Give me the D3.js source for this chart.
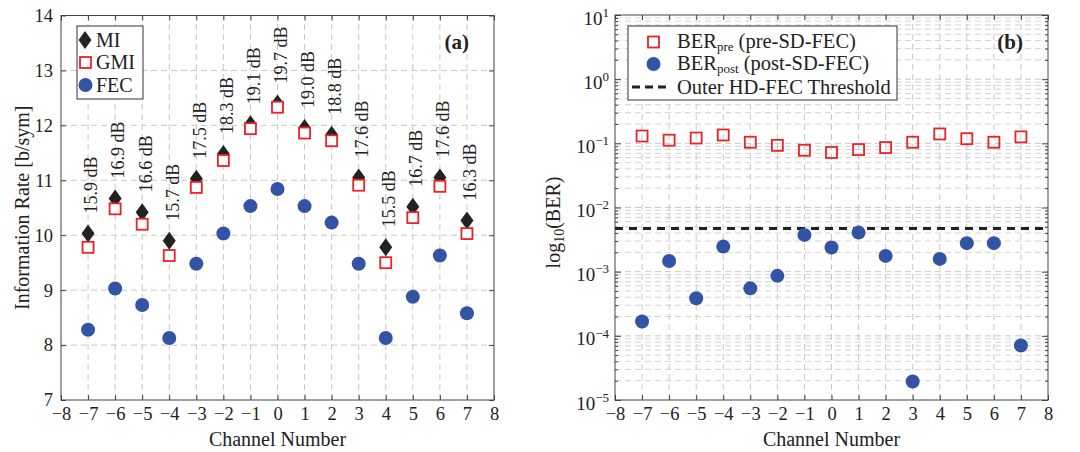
<!DOCTYPE html>
<html><head><meta charset="utf-8">
<script src="https://cdn.jsdelivr.net/npm/d3@7"></script>
<style>
body{margin:0;background:#fff;}
text{font-family:"Liberation Serif","Times New Roman",serif;fill:#222;}
</style></head>
<body><svg id="c" width="1080" height="452"></svg>
<script>
const channels = [-7,-6,-5,-4,-3,-2,-1,0,1,2,3,4,5,6,7];
const miValues  = [10.03,10.67,10.42,9.90,11.03,11.48,12.02,12.40,11.95,11.83,11.05,9.78,10.52,11.05,10.27];
const gmiValues = [9.78,10.48,10.20,9.63,10.87,11.36,11.94,12.33,11.86,11.72,10.91,9.50,10.32,10.89,10.03];
const fecValues = [8.28,9.03,8.73,8.13,9.48,10.03,10.53,10.84,10.53,10.23,9.48,8.13,8.88,9.63,8.58];
const snrLabels = ["15.9 dB","16.9 dB","16.6 dB","15.7 dB","17.5 dB","18.3 dB","19.1 dB","19.7 dB","19.0 dB","18.8 dB","17.6 dB","15.5 dB","16.7 dB","17.6 dB","16.3 dB"];
const berPre  = [0.130,0.112,0.121,0.135,0.104,0.093,0.078,0.072,0.080,0.086,0.104,0.140,0.118,0.104,0.126];
const berPost = [1.67e-4,1.47e-3,3.86e-4,2.46e-3,5.5e-4,8.6e-4,3.74e-3,2.38e-3,4.06e-3,1.76e-3,1.94e-5,1.58e-3,2.78e-3,2.78e-3,7.06e-5];
const hdFecThreshold = 4.7e-3;
const xTicks = [-8,-7,-6,-5,-4,-3,-2,-1,0,1,2,3,4,5,6,7,8];
const yTicksA = [7,8,9,10,11,12,13,14];
const yTicksBExp = [-5,-4,-3,-2,-1,0,1];

const RED = "#ec2227", BLUE = "#3353a4", BLACK = "#222";
const svg = d3.select("#c");
const fmtMinus = n => (n < 0 ? "\u2212" + Math.abs(n) : "" + n);
const DIAMOND = "M0,-9L6.5,0L0,9L-6.5,0Z";

function styleAxis(a, size){
  a.select(".domain").remove();
  a.selectAll(".tick line").attr("stroke","#444");
  a.selectAll(".tick text").style("font-size",size+"px").style("font-family","'Liberation Serif',serif").attr("fill","#222");
}
function frame(g, x0, x1, y0, y1){
  g.append("rect").attr("x",x0).attr("y",y1).attr("width",x1-x0).attr("height",y0-y1)
   .attr("fill","none").attr("stroke","#444").attr("stroke-width",1);
}

// ---------- Panel (a) ----------
const xA = d3.scaleLinear().domain([-8,8]).range([61,494]);
const yA = d3.scaleLinear().domain([7,14]).range([400,15.5]);
const gA = svg.append("g");

gA.append("g").selectAll("line").data(xTicks.slice(1,-1)).join("line")
  .attr("x1",d=>xA(d)).attr("x2",d=>xA(d)).attr("y1",yA(7)).attr("y2",yA(14))
  .attr("stroke","#c8c8c8").attr("stroke-width",1).attr("stroke-dasharray","6,4");
gA.append("g").selectAll("line").data(yTicksA.slice(1,-1)).join("line")
  .attr("y1",d=>yA(d)).attr("y2",d=>yA(d)).attr("x1",xA(-8)).attr("x2",xA(8))
  .attr("stroke","#c8c8c8").attr("stroke-width",1).attr("stroke-dasharray","6,4");
frame(gA, xA(-8), xA(8), yA(7), yA(14));

const axBA = gA.append("g").attr("transform",`translate(0,${yA(7)})`)
  .call(d3.axisBottom(xA).tickValues(xTicks).tickSize(-5).tickPadding(7).tickFormat(fmtMinus));
const axTA = gA.append("g").attr("transform",`translate(0,${yA(14)})`)
  .call(d3.axisTop(xA).tickValues(xTicks).tickSize(-5).tickFormat(""));
const axLA = gA.append("g").attr("transform",`translate(${xA(-8)},0)`)
  .call(d3.axisLeft(yA).tickValues(yTicksA).tickSize(-5).tickPadding(8).tickFormat(d3.format("d")));
const axRA = gA.append("g").attr("transform",`translate(${xA(8)},0)`)
  .call(d3.axisRight(yA).tickValues(yTicksA).tickSize(-5).tickFormat(""));
styleAxis(axBA,18.5); styleAxis(axTA,18); styleAxis(axLA,18.5); styleAxis(axRA,18);

gA.append("g").selectAll("path").data(channels).join("path")
  .attr("d",DIAMOND)
  .attr("transform",(d,i)=>`translate(${xA(d)},${yA(miValues[i])})`).attr("fill",BLACK);
gA.append("g").selectAll("rect").data(channels).join("rect")
  .attr("x",d=>xA(d)-5.5).attr("y",(d,i)=>yA(gmiValues[i])-5.5)
  .attr("width",11).attr("height",11).attr("fill","#fff").attr("stroke",RED).attr("stroke-width",1.8);
gA.append("g").selectAll("circle").data(channels).join("circle")
  .attr("cx",d=>xA(d)).attr("cy",(d,i)=>yA(fecValues[i])).attr("r",7).attr("fill",BLUE);

gA.append("g").selectAll("text").data(channels).join("text")
  .attr("transform",(d,i)=>`translate(${xA(d)+3},${yA(miValues[i])-20}) rotate(-90)`)
  .attr("dy","0.35em").attr("text-anchor","start").style("font-size","18px").text((d,i)=>snrLabels[i]);

const lgA = gA.append("g");
lgA.append("rect").attr("x",77).attr("y",26).attr("width",66).attr("height",73)
  .attr("fill","#fff").attr("stroke","#333").attr("stroke-width",1);
lgA.append("path").attr("d",DIAMOND).attr("transform","translate(85,40)").attr("fill",BLACK);
lgA.append("rect").attr("x",80).attr("y",57).attr("width",11).attr("height",11).attr("fill","#fff").attr("stroke",RED).attr("stroke-width",1.8);
lgA.append("circle").attr("cx",85.5).attr("cy",85).attr("r",7).attr("fill",BLUE);
[["MI",40],["GMI",62],["FEC",85]].forEach(([t,y])=>{
  lgA.append("text").attr("x",96).attr("y",y).attr("dy","0.35em").style("font-size","20px").text(t);
});
gA.append("text").attr("x",469).attr("y",42).attr("dy","0.35em").attr("text-anchor","end")
  .style("font-size","21px").attr("font-weight","bold").text("(a)");

gA.append("text").attr("x",(xA(-8)+xA(8))/2).attr("y",446).attr("text-anchor","middle").style("font-size","20px").text("Channel Number");
gA.append("text").attr("transform",`translate(22,${(yA(7)+yA(14))/2}) rotate(-90)`).attr("dy","0.35em")
  .attr("text-anchor","middle").style("font-size","20px").text("Information Rate [b/sym]");

// ---------- Panel (b) ----------
const xB = d3.scaleLinear().domain([-8,8]).range([615,1048]);
const yB = d3.scaleLog().domain([1e-5,1e1]).range([400,15]);
const gB = svg.append("g");

const minorVals = [];
yTicksBExp.slice(0,-1).forEach(e=>{ for(let m=2;m<=9;m++) minorVals.push(m*Math.pow(10,e)); });
const majorVals = yTicksBExp.map(e=>Math.pow(10,e));

gB.append("g").selectAll("line").data(minorVals).join("line")
  .attr("y1",d=>yB(d)).attr("y2",d=>yB(d)).attr("x1",xB(-8)).attr("x2",xB(8))
  .attr("stroke","#d4d4d4").attr("stroke-width",1).attr("stroke-dasharray","6,4");
gB.append("g").selectAll("line").data(majorVals.slice(1,-1)).join("line")
  .attr("y1",d=>yB(d)).attr("y2",d=>yB(d)).attr("x1",xB(-8)).attr("x2",xB(8))
  .attr("stroke","#c8c8c8").attr("stroke-width",1).attr("stroke-dasharray","6,4");
gB.append("g").selectAll("line").data(xTicks.slice(1,-1)).join("line")
  .attr("x1",d=>xB(d)).attr("x2",d=>xB(d)).attr("y1",yB(1e-5)).attr("y2",yB(1e1))
  .attr("stroke","#c8c8c8").attr("stroke-width",1).attr("stroke-dasharray","6,4");
frame(gB, xB(-8), xB(8), yB(1e-5), yB(1e1));

const axBB = gB.append("g").attr("transform",`translate(0,${yB(1e-5)})`)
  .call(d3.axisBottom(xB).tickValues(xTicks).tickSize(-5).tickPadding(7).tickFormat(fmtMinus));
const axTB = gB.append("g").attr("transform",`translate(0,${yB(1e1)})`)
  .call(d3.axisTop(xB).tickValues(xTicks).tickSize(-5).tickFormat(""));
const axLB = gB.append("g").attr("transform",`translate(${xB(-8)},0)`)
  .call(d3.axisLeft(yB).tickValues(majorVals).tickSize(-6).tickFormat(""));
const axLBm = gB.append("g").attr("transform",`translate(${xB(-8)},0)`)
  .call(d3.axisLeft(yB).tickValues(minorVals).tickSize(-3).tickFormat(""));
const axRB = gB.append("g").attr("transform",`translate(${xB(8)},0)`)
  .call(d3.axisRight(yB).tickValues(majorVals).tickSize(-6).tickFormat(""));
const axRBm = gB.append("g").attr("transform",`translate(${xB(8)},0)`)
  .call(d3.axisRight(yB).tickValues(minorVals).tickSize(-3).tickFormat(""));
[axBB,axTB,axLB,axLBm,axRB,axRBm].forEach(a=>styleAxis(a,18.5));
axLB.selectAll(".tick").each(function(d){
  const e = Math.round(Math.log10(d));
  const t = d3.select(this).append("text").attr("x",-6).attr("y",3).attr("dy","0.32em").attr("text-anchor","end")
    .style("font-size","19px").attr("fill","#222");
  t.append("tspan").text("10");
  t.append("tspan").attr("dy","-0.6em").style("font-size","13px").text(fmtMinus(e));
});

gB.append("line").attr("x1",xB(-8)).attr("x2",xB(8)).attr("y1",yB(hdFecThreshold)).attr("y2",yB(hdFecThreshold))
  .attr("stroke","#222").attr("stroke-width",3).attr("stroke-dasharray","8,6");

gB.append("g").selectAll("rect").data(channels).join("rect")
  .attr("x",d=>xB(d)-5.5).attr("y",(d,i)=>yB(berPre[i])-5.5)
  .attr("width",11).attr("height",11).attr("fill","none").attr("stroke",RED).attr("stroke-width",1.8);
gB.append("g").selectAll("circle").data(channels).join("circle")
  .attr("cx",d=>xB(d)).attr("cy",(d,i)=>yB(berPost[i])).attr("r",7).attr("fill",BLUE);

const lgB = gB.append("g");
lgB.append("rect").attr("x",628).attr("y",26).attr("width",269).attr("height",74)
  .attr("fill","#fff").attr("stroke","#333").attr("stroke-width",1);
lgB.append("rect").attr("x",648).attr("y",36.5).attr("width",11).attr("height",11).attr("fill","#fff").attr("stroke",RED).attr("stroke-width",1.8);
lgB.append("circle").attr("cx",653.5).attr("cy",64).attr("r",7).attr("fill",BLUE);
lgB.append("line").attr("x1",632).attr("x2",666).attr("y1",87).attr("y2",87).attr("stroke","#222").attr("stroke-width",3).attr("stroke-dasharray","8,5");
function legText(y, main, sub, rest){
  const t = lgB.append("text").attr("x",677).attr("y",y).attr("dy","0.35em").style("font-size","20.5px");
  t.append("tspan").text(main);
  if(sub){
    t.append("tspan").attr("dy","0.22em").style("font-size","13px").text(sub);
    t.append("tspan").attr("dy","-0.14em").text(rest);
  }
}
legText(41,"BER","pre"," (pre-SD-FEC)");
legText(63,"BER","post"," (post-SD-FEC)");
legText(87,"Outer HD-FEC Threshold");
gB.append("text").attr("x",1023).attr("y",42).attr("dy","0.35em").attr("text-anchor","end")
  .style("font-size","21px").attr("font-weight","bold").text("(b)");

gB.append("text").attr("x",(xB(-8)+xB(8))/2).attr("y",446).attr("text-anchor","middle").style("font-size","20px").text("Channel Number");
const yt = gB.append("text").attr("transform",`translate(553,${(yB(1e-5)+yB(1e1))/2+15}) rotate(-90)`).attr("dy","0.35em")
  .attr("text-anchor","middle").style("font-size","20px");
yt.append("tspan").text("log");
yt.append("tspan").attr("dy","0.3em").style("font-size","14px").text("10");
yt.append("tspan").attr("dy","-0.21em").text("(BER)");
</script></body></html>
